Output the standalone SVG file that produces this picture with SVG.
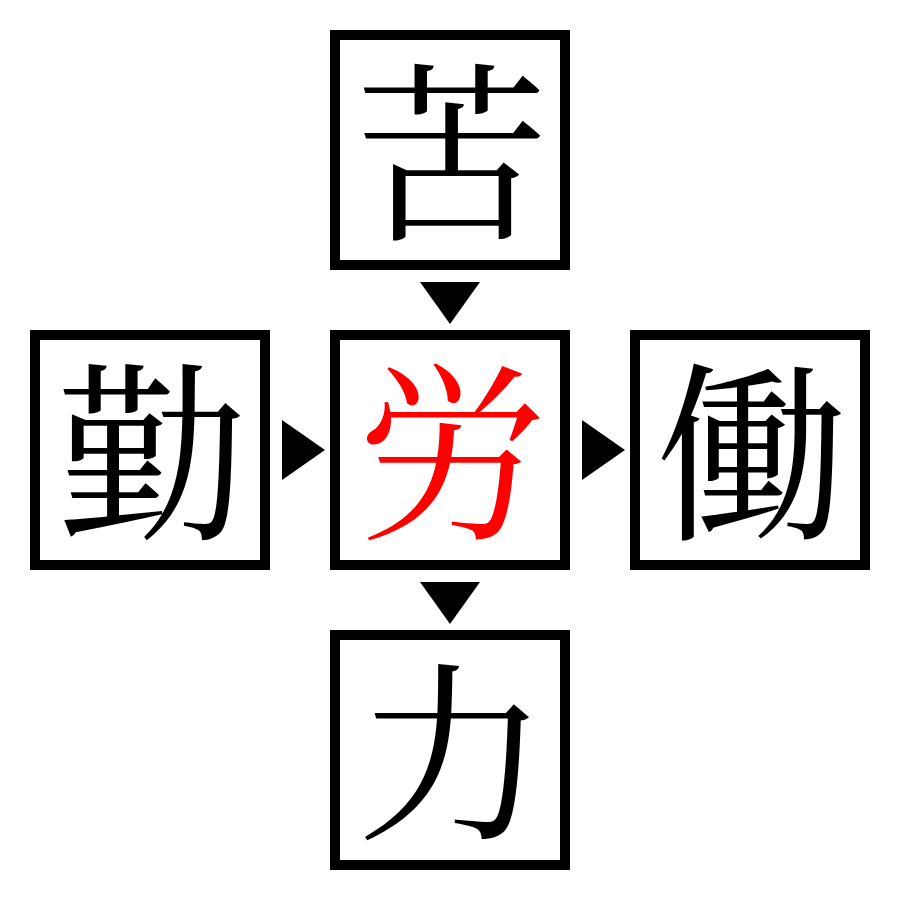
<svg xmlns="http://www.w3.org/2000/svg" width="900" height="900" viewBox="0 0 900 900">
<style>
.box{fill:#fff;stroke:#000;stroke-width:10}
.ch{font-family:"Noto Serif CJK JP","Noto Sans CJK JP","Noto Sans CJK SC",serif;font-size:192px;text-anchor:middle;dominant-baseline:central;fill:#000}
.red{fill:#ff0000}
.arr{fill:#000}
</style>
<rect width="900" height="900" fill="#fff"/>
<g id="connectors">
<polygon class="arr" points="420,282 480,282 450,324"/>
<polygon class="arr" points="282,420 325,450 282,480"/>
<polygon class="arr" points="582,420 625,450 582,480"/>
<polygon class="arr" points="420,582 480,582 450,624"/>
</g>
<g id="node-top"><rect class="box" x="335" y="35" width="230" height="230"/><text class="ch" x="452" y="142">苦</text></g>
<g id="node-left"><rect class="box" x="35" y="335" width="230" height="230"/><text class="ch" x="152" y="442">勤</text></g>
<g id="node-center"><rect class="box" x="335" y="335" width="230" height="230"/><text class="ch red" x="452" y="442">労</text></g>
<g id="node-right"><rect class="box" x="635" y="335" width="230" height="230"/><text class="ch" x="752" y="442">働</text></g>
<g id="node-bottom"><rect class="box" x="335" y="635" width="230" height="230"/><text class="ch" x="452" y="742">力</text></g>
</svg>
